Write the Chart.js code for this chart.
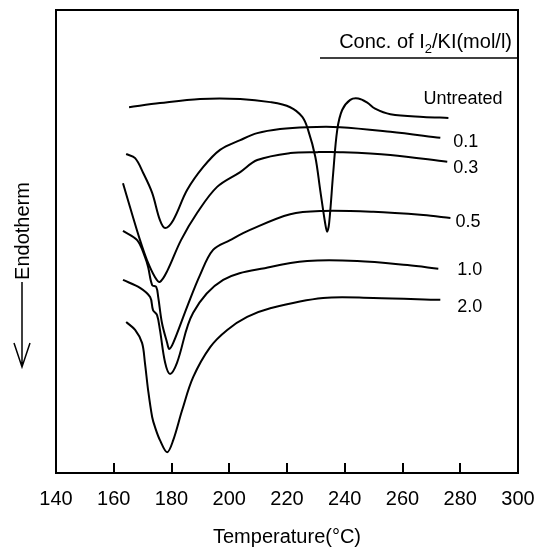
<!DOCTYPE html>
<html>
<head>
<meta charset="utf-8">
<script src="https://cdn.jsdelivr.net/npm/chart.js@4.4.0/dist/chart.umd.min.js"></script>
<style>
  html, body { margin: 0; padding: 0; background: #fff; }
  #wrap { width: 537px; height: 552px; }
</style>
</head>
<body>
<div id="wrap"><canvas id="dsc"></canvas></div>
<script>
// DSC curves, heat flow in arbitrary units
const xTicks = [140, 160, 180, 200, 220, 240, 260, 280, 300];
const seriesNames = ['Untreated', '0.1', '0.3', '0.5', '1.0', '2.0'];

const untreatedT = [165.3, 176.0, 189.9, 203.8, 214.2, 221.1, 225.3, 227.3, 229.8, 231.5, 233.2, 233.9, 234.6, 236.0, 237.4, 239.1, 241.9, 244.7, 247.8, 250.5, 255.8, 267.2, 275.9];
const untreatedY = [79.0, 79.9, 80.8, 80.8, 80.1, 79.0, 76.9, 74.1, 68.3, 61.1, 54.0, 52.1, 54.0, 64.8, 74.1, 78.4, 80.6, 80.9, 80.0, 78.7, 77.5, 76.9, 76.7];

const c01T = [164.3, 167.4, 170.2, 173.3, 176.0, 177.8, 180.6, 185.4, 191.0, 196.8, 203.8, 209.7, 217.6, 227.0, 238.4, 255.8, 273.1];
const c01Y = [68.9, 68.0, 64.8, 60.5, 54.6, 52.9, 54.6, 61.1, 66.1, 69.8, 71.9, 73.4, 74.3, 74.7, 74.7, 73.7, 72.4];

const c03T = [163.2, 165.6, 169.1, 171.5, 174.3, 176.0, 178.5, 183.3, 188.9, 195.8, 203.8, 209.7, 221.1, 230.5, 238.4, 255.8, 275.5];
const c03Y = [62.6, 57.5, 50.3, 46.0, 42.3, 41.3, 43.6, 50.3, 56.2, 61.8, 65.0, 67.6, 69.1, 69.3, 69.3, 68.7, 67.2];

const c05T = [163.2, 168.1, 170.8, 171.9, 173.3, 174.7, 175.4, 176.7, 178.5, 179.2, 180.6, 185.4, 189.9, 194.4, 200.3, 207.2, 221.1, 232.5, 249.9, 267.2, 276.6];
const c05Y = [52.3, 50.3, 46.7, 44.5, 40.6, 40.2, 38.0, 32.4, 28.1, 26.8, 28.1, 35.9, 42.8, 48.2, 50.3, 52.5, 55.9, 56.6, 56.4, 55.7, 55.1];

const c10T = [163.2, 169.1, 172.6, 173.6, 175.0, 176.0, 177.8, 179.5, 181.9, 187.5, 197.9, 214.2, 227.0, 244.3, 261.7, 272.4];
const c10Y = [41.7, 40.0, 38.0, 35.2, 34.1, 30.9, 23.8, 21.4, 23.8, 34.6, 41.7, 44.5, 45.8, 45.8, 44.9, 44.1];

const c20T = [164.3, 167.4, 169.8, 170.8, 171.9, 173.3, 174.3, 176.0, 178.5, 180.6, 183.7, 187.5, 193.4, 199.3, 206.2, 214.2, 232.5, 249.9, 273.1];
const c20Y = [32.6, 30.9, 28.1, 23.8, 17.9, 12.1, 9.9, 7.1, 4.5, 7.1, 13.6, 20.7, 27.2, 30.9, 33.7, 35.6, 37.8, 37.8, 37.4];

const allT = [untreatedT, c01T, c03T, c05T, c10T, c20T];
const allY = [untreatedY, c01Y, c03Y, c05Y, c10Y, c20Y];

const fontFam = '"Liberation Sans", Arial, Helvetica, sans-serif';

const datasets = seriesNames.map((name, i) => ({
  label: name,
  data: allT[i].map((t, j) => ({ x: t, y: allY[i][j] })),
  borderColor: '#000',
  borderWidth: 2,
  pointRadius: 0,
  fill: false,
  tension: 0.35
}));

// label offsets from the end of each curve (pixels)
const labelOffsets = [[-25, -19], [13, 4], [6, 6], [5, 4], [19, 1], [17, 7]];

const decorPlugin = {
  id: 'decor',
  afterDraw(chart) {
    const ctx = chart.ctx;
    const a = chart.chartArea;
    const xs = chart.scales.x;
    const ys = chart.scales.y;
    ctx.save();
    ctx.strokeStyle = '#000';
    ctx.fillStyle = '#000';

    // frame
    ctx.lineWidth = 2;
    ctx.strokeRect(a.left, a.top, a.right - a.left, a.bottom - a.top);

    // inward ticks
    ctx.lineWidth = 2;
    xTicks.slice(1, -1).forEach(t => {
      const px = Math.round(xs.getPixelForValue(t));
      ctx.beginPath();
      ctx.moveTo(px, a.bottom);
      ctx.lineTo(px, a.bottom - 10);
      ctx.stroke();
    });

    // curve labels
    ctx.font = '18px ' + fontFam;
    ctx.textBaseline = 'middle';
    ctx.textAlign = 'left';
    seriesNames.forEach((name, i) => {
      const t = allT[i], v = allY[i];
      const px = xs.getPixelForValue(t[t.length - 1]);
      const py = ys.getPixelForValue(v[v.length - 1]);
      ctx.fillText(name, px + labelOffsets[i][0], py + labelOffsets[i][1]);
    });

    // legend title with subscript, right aligned
    const right = 512, base = 48;
    ctx.textBaseline = 'alphabetic';
    ctx.font = '20px ' + fontFam;
    const p1 = 'Conc. of I', p3 = '/KI(mol/l)';
    const w1 = ctx.measureText(p1).width, w3 = ctx.measureText(p3).width;
    ctx.font = '13px ' + fontFam;
    const w2 = ctx.measureText('2').width;
    let x0 = right - w1 - w2 - w3;
    ctx.font = '20px ' + fontFam;
    ctx.fillText(p1, x0, base);
    ctx.font = '13px ' + fontFam;
    ctx.fillText('2', x0 + w1, base + 5);
    ctx.font = '20px ' + fontFam;
    ctx.fillText(p3, x0 + w1 + w2, base);
    ctx.lineWidth = 1.5;
    ctx.beginPath();
    ctx.moveTo(320, 58);
    ctx.lineTo(a.right, 58);
    ctx.stroke();

    // y title with arrow
    ctx.save();
    ctx.translate(22, 231);
    ctx.rotate(-Math.PI / 2);
    ctx.font = '20px ' + fontFam;
    ctx.textAlign = 'center';
    ctx.textBaseline = 'middle';
    ctx.fillText('Endotherm', 0, 1);
    ctx.restore();
    ctx.lineWidth = 1.5;
    ctx.beginPath();
    ctx.moveTo(22, 282);
    ctx.lineTo(22, 367);
    ctx.moveTo(14, 343);
    ctx.lineTo(22, 367);
    ctx.lineTo(30, 343);
    ctx.stroke();
    ctx.restore();
  }
};

new Chart(document.getElementById('dsc'), {
  type: 'line',
  data: { datasets: datasets },
  options: {
    responsive: true,
    maintainAspectRatio: false,
    animation: false,
    layout: { padding: { left: 56, right: 19, top: 10, bottom: 0 } },
    plugins: {
      legend: { display: false },
      tooltip: { enabled: false }
    },
    scales: {
      x: {
        type: 'linear',
        min: 140,
        max: 300,
        afterBuildTicks: axis => { axis.ticks = xTicks.map(v => ({ value: v })); },
        afterFit: axis => {
          axis.height = 79;
          axis.paddingLeft = 0;
          axis.paddingRight = 0;
        },
        grid: { display: false, drawTicks: false },
        border: { display: false },
        ticks: {
          color: '#000',
          padding: 14,
          maxRotation: 0,
          autoSkip: false,
          font: { size: 20, family: fontFam }
        },
        title: {
          display: true,
          text: 'Temperature(°C)',
          color: '#000',
          padding: { top: 14, bottom: 3 },
          font: { size: 20, family: fontFam }
        }
      },
      y: {
        type: 'linear',
        min: 0,
        max: 100,
        display: false
      }
    }
  },
  plugins: [decorPlugin]
});
</script>
</body>
</html>
